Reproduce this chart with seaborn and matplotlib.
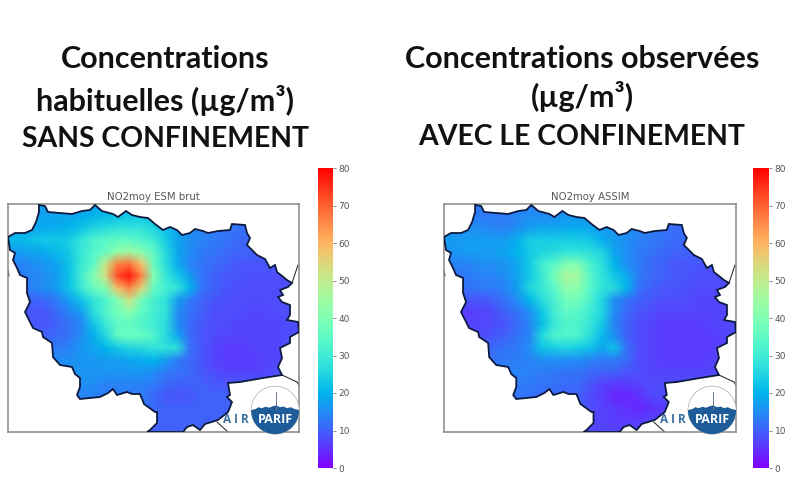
import numpy as np
import matplotlib
matplotlib.use('Agg')
import matplotlib.pyplot as plt
from matplotlib.patches import Polygon, Ellipse
from matplotlib.transforms import Affine2D
import seaborn as sns

# NO2 values, west to east, north to south
brut = [
    [16, 16, 16, 17, 17, 17, 17, 18, 18, 19, 19, 19, 18, 17, 15, 14, 13, 12, 12, 11, 10, 10, 10, 10, 10],
    [16, 17, 17, 18, 18, 18, 19, 20, 21, 22, 23, 23, 21, 19, 16, 14, 13, 12, 12, 11, 10, 10, 10, 10, 10],
    [18, 18, 18, 19, 19, 20, 22, 25, 26, 28, 28, 28, 25, 22, 18, 15, 14, 13, 12, 12, 11, 10, 10, 10, 10],
    [21, 21, 22, 23, 23, 24, 28, 32, 34, 35, 35, 33, 30, 24, 18, 15, 14, 13, 12, 11, 10, 10, 10, 10, 10],
    [16, 17, 18, 19, 21, 23, 29, 33, 36, 43, 45, 41, 35, 26, 18, 15, 13, 12, 11, 10, 10, 9, 9, 9, 9],
    [13, 14, 15, 16, 18, 22, 29, 34, 50, 66, 68, 58, 37, 27, 19, 14, 12, 11, 10, 9, 9, 9, 9, 9, 9],
    [13, 13, 14, 15, 17, 22, 30, 40, 52, 72, 78, 66, 40, 29, 23, 17, 12, 10, 9, 9, 8, 8, 8, 8, 8],
    [12, 13, 14, 15, 17, 22, 29, 36, 40, 58, 66, 55, 36, 31, 28, 20, 12, 10, 9, 8, 8, 8, 8, 8, 8],
    [11, 10, 10, 11, 13, 17, 22, 28, 32, 40, 52, 38, 31, 28, 17, 13, 10, 9, 8, 8, 8, 8, 8, 8, 8],
    [9, 9, 9, 9, 11, 14, 17, 26, 33, 38, 42, 35, 31, 28, 15, 12, 10, 8, 8, 8, 7, 7, 8, 8, 8],
    [9, 9, 9, 9, 10, 12, 14, 22, 29, 35, 35, 33, 30, 27, 15, 11, 9, 8, 8, 7, 7, 7, 7, 8, 8],
    [10, 10, 10, 10, 11, 12, 15, 19, 25, 35, 37, 36, 33, 26, 18, 11, 9, 8, 7, 7, 7, 7, 7, 8, 8],
    [11, 11, 12, 12, 13, 14, 16, 18, 20, 23, 25, 26, 28, 28, 27, 12, 9, 7, 6, 6, 7, 7, 7, 8, 8],
    [12, 12, 13, 14, 15, 15, 16, 16, 17, 17, 18, 19, 20, 17, 13, 11, 9, 7, 6, 6, 6, 7, 7, 8, 8],
    [13, 14, 15, 15, 16, 16, 16, 16, 16, 16, 16, 16, 15, 13, 12, 11, 9, 8, 7, 7, 7, 7, 8, 8, 8],
    [14, 15, 16, 16, 16, 15, 15, 15, 14, 14, 14, 14, 13, 11, 10, 10, 10, 9, 9, 9, 9, 9, 9, 9, 9],
    [14, 15, 15, 15, 15, 14, 14, 14, 13, 13, 13, 13, 11, 9, 9, 9, 10, 10, 10, 10, 10, 10, 10, 10, 10],
    [14, 14, 14, 14, 13, 13, 13, 13, 12, 12, 12, 12, 11, 10, 10, 10, 10, 10, 10, 10, 10, 10, 10, 10, 10],
    [13, 13, 13, 13, 13, 13, 12, 12, 12, 11, 11, 11, 10, 10, 10, 10, 10, 10, 10, 10, 10, 10, 10, 10, 10],
    [13, 13, 13, 13, 12, 12, 12, 12, 11, 11, 11, 11, 10, 10, 10, 10, 10, 10, 10, 10, 10, 10, 10, 10, 10],
]
assim = [
    [13, 13, 13, 13, 13, 13, 14, 14, 14, 15, 15, 15, 14, 13, 13, 13, 12, 12, 11, 10, 10, 10, 10, 10, 10],
    [14, 14, 14, 13, 13, 13, 14, 15, 15, 15, 16, 16, 16, 15, 15, 14, 13, 12, 12, 11, 11, 10, 10, 10, 10],
    [15, 15, 15, 15, 14, 14, 15, 17, 18, 18, 19, 19, 18, 17, 16, 15, 14, 13, 12, 11, 11, 10, 10, 10, 10],
    [17, 17, 17, 17, 17, 17, 19, 24, 24, 24, 24, 24, 23, 19, 17, 15, 14, 13, 12, 11, 11, 10, 10, 10, 10],
    [15, 16, 17, 17, 17, 18, 20, 23, 25, 26, 28, 28, 27, 25, 18, 15, 13, 12, 11, 10, 10, 10, 10, 9, 9],
    [13, 14, 14, 15, 15, 16, 18, 23, 30, 34, 40, 40, 32, 27, 20, 15, 13, 11, 10, 9, 9, 9, 9, 9, 9],
    [11, 12, 13, 14, 14, 15, 18, 23, 29, 38, 47, 45, 34, 28, 23, 19, 13, 11, 10, 9, 9, 8, 8, 8, 8],
    [10, 11, 12, 13, 13, 14, 17, 25, 29, 34, 42, 42, 34, 28, 26, 20, 12, 10, 9, 9, 8, 8, 8, 8, 8],
    [8, 8, 9, 9, 10, 12, 15, 20, 26, 31, 38, 38, 32, 25, 15, 12, 10, 9, 8, 8, 8, 7, 7, 7, 7],
    [7, 6, 6, 7, 8, 10, 12, 15, 22, 30, 35, 34, 30, 25, 15, 11, 9, 8, 7, 7, 7, 7, 7, 7, 8],
    [8, 7, 7, 7, 8, 9, 11, 14, 21, 29, 33, 32, 29, 23, 14, 10, 8, 7, 6, 6, 6, 6, 7, 7, 8],
    [9, 8, 8, 8, 9, 10, 12, 14, 25, 32, 33, 32, 27, 21, 15, 10, 8, 7, 6, 6, 6, 6, 6, 7, 8],
    [10, 9, 9, 10, 11, 12, 13, 15, 22, 24, 25, 24, 22, 18, 22, 12, 8, 7, 6, 6, 6, 6, 6, 7, 8],
    [11, 11, 11, 12, 12, 13, 13, 14, 15, 15, 15, 15, 14, 13, 13, 11, 8, 7, 6, 6, 6, 6, 7, 7, 8],
    [12, 12, 13, 13, 14, 14, 14, 14, 13, 13, 12, 12, 11, 10, 10, 9, 8, 7, 7, 7, 7, 7, 7, 8, 8],
    [12, 13, 13, 14, 14, 14, 13, 13, 12, 12, 11, 11, 9, 7, 6, 6, 7, 8, 8, 8, 8, 8, 8, 8, 8],
    [12, 13, 13, 13, 13, 13, 12, 12, 11, 11, 10, 10, 8, 6, 4, 4, 5, 7, 8, 8, 8, 8, 8, 8, 8],
    [12, 12, 12, 12, 12, 12, 11, 11, 10, 10, 9, 9, 8, 7, 6, 5, 4, 5, 6, 7, 7, 7, 7, 7, 7],
    [11, 11, 11, 11, 11, 11, 10, 10, 9, 9, 8, 8, 7, 7, 6, 6, 6, 7, 7, 7, 7, 7, 7, 7, 7],
    [11, 11, 11, 11, 11, 10, 10, 10, 9, 9, 8, 8, 7, 7, 7, 7, 7, 7, 7, 7, 7, 7, 7, 7, 7],
]

# Region border in map units (0-291 east, 0-228 south), clockwise from the west
border_x = [0, 7, 10, 17, 24, 28, 31, 31, 37, 40, 52, 64, 74, 82, 87, 94, 105, 110, 118, 124, 132, 140, 147,
            155, 162, 169, 174, 182, 187, 195, 200, 210, 222, 224, 237, 239, 242, 239, 249, 257, 262, 267,
            269, 279, 284, 280, 272, 275, 270, 274, 282, 282, 279, 290, 291, 282, 282, 272, 274, 270, 274,
            255, 232, 220, 222, 219, 224, 220, 210, 197, 192, 185, 179, 175, 139, 142, 149, 149, 147, 136,
            132, 124, 119, 109, 105, 100, 92, 72, 69, 72, 72, 67, 64, 52, 45, 44, 35, 34, 25, 20, 17, 22,
            19, 19, 12, 9, 5, 7, 2]
border_y = [33, 29, 29, 29, 26, 18, 8, 1, 2, 8, 9, 10, 7, 6, 1, 7, 10, 13, 7, 11, 13, 14, 20,
            26, 23, 26, 31, 29, 25, 27, 29, 27, 26, 20, 21, 29, 34, 41, 51, 55, 64, 61,
            68, 76, 79, 83, 86, 91, 93, 98, 101, 111, 116, 118, 128, 133, 139, 144, 154, 163, 171,
            174, 178, 179, 191, 193, 198, 208, 216, 220, 226, 221, 223, 228, 228, 226, 219, 208, 208, 200,
            190, 190, 188, 191, 185, 189, 193, 195, 191, 183, 174, 170, 163, 161, 153, 139, 133, 128, 124, 114, 108, 98,
            89, 74, 71, 64, 56, 49, 46]
# Neighbouring borders that run outside the region
neighbour_lines = [
    ([274, 289, 291], [171, 178, 181]),
    ([284, 290], [79, 61]),
    ([209, 220], [218, 228]),
    ([0, 1], [66, 72]),
]

subtitles = ['NO2moy ESM brut', 'NO2moy ASSIM']
headlines = [
    ['Concentrations', 'habituelles (µg/m³)', 'SANS CONFINEMENT'],
    ['Concentrations observées', '(µg/m³)', 'AVEC LE CONFINEMENT'],
]
# small roofline on top of the badge, fraction of badge radius
skyline_x = [-1.0, -0.8, -0.7, -0.55, -0.4, -0.25, -0.1, 0.05, 0.2, 0.35, 0.5, 0.65, 0.8, 1.0]
skyline_y = [0.0, 0.05, 0.12, 0.08, 0.14, 0.1, 0.16, 0.2, 0.12, 0.15, 0.08, 0.12, 0.05, 0.0]
cbar_ticks = [0, 10, 20, 30, 40, 50, 60, 70, 80]

W, H = 800, 494


def px_axes(fig, x0, y0, x1, y1):
    # axes from pixel box, y measured from the top
    return fig.add_axes([x0 / W, 1 - y1 / H, (x1 - x0) / W, (y1 - y0) / H])


def draw_logo(ax):
    # AIRPARIF badge, in axes fraction
    t = ax.transAxes
    cx, cy = 0.918, 0.096
    rx = 24 / 291
    ry = 24 / 228
    ax.add_patch(Ellipse((cx, cy), 2 * rx, 2 * ry, transform=t, fc='white', ec='#aaaaaa', lw=0.5,
                         clip_on=False, zorder=5))
    theta = np.linspace(0, -np.pi, 60)
    xs = list(np.cos(theta)) + skyline_x
    ys = list(np.sin(theta)) + skyline_y
    badge = Affine2D().scale(rx, ry).translate(cx, cy) + t
    ax.add_patch(Polygon(np.column_stack([xs, ys]), closed=True, fc='#1d5c99', ec='none', transform=badge,
                         clip_on=False, zorder=6))
    ax.plot([cx + 0.004, cx + 0.004], [cy, cy + 0.078], color='#667788', lw=0.7, transform=t, clip_on=False, zorder=6)
    ax.text(cx, cy - 0.042, 'PARIF', color='white', fontsize=9, fontweight='bold', family='Open Sans',
            ha='center', va='center', transform=t, zorder=7, clip_on=False)
    ax.text(cx - 0.09, cy - 0.042, 'A I R', color='#3a6f9f', fontsize=8.5, fontweight='bold', family='Open Sans',
            ha='right', va='center', transform=t, zorder=7, clip_on=False)


def draw_map(fig, values, box, cbar_box, subtitle):
    ax = px_axes(fig, *box)
    cax = px_axes(fig, *cbar_box)
    data = np.array(values, dtype=float)
    nrows, ncols = data.shape
    sns.heatmap(data, ax=ax, cbar_ax=cax, cmap='rainbow', vmin=0, vmax=80, xticklabels=False,
                yticklabels=False, shading='gouraud', cbar_kws={'ticks': cbar_ticks})
    ax.set_xlim(0, ncols - 1)
    ax.set_ylim(nrows - 1, 0)

    sx = (ncols - 1) / 291
    sy = (nrows - 1) / 228
    pts = np.column_stack([np.array(border_x) * sx, np.array(border_y) * sy])
    clip = Polygon(pts, closed=True, transform=ax.transData, fc='none', ec='#0c1a40', lw=1.3, zorder=3)
    ax.add_patch(clip)
    ax.collections[0].set_clip_path(clip)
    for lx, ly in neighbour_lines:
        ax.plot(np.array(lx) * sx, np.array(ly) * sy, color='#333333', lw=0.8, zorder=2)

    for s in ax.spines.values():
        s.set_visible(True)
        s.set_color('#888888')
        s.set_linewidth(1.1)
    ax.set_title(subtitle, fontsize=7.3, color='#555555', pad=3)
    cax.tick_params(labelsize=6.5, labelcolor='#555555', color='#777777', length=2, width=0.6, pad=2)
    draw_logo(ax)


sns.set_theme(style='white')
fig = plt.figure(figsize=(W / 100, H / 100), dpi=100, facecolor='white')

draw_map(fig, brut, (8, 204, 299, 432), (318, 168, 333, 468), subtitles[0])
draw_map(fig, assim, (444, 204, 736, 432), (753, 168, 769, 468), subtitles[1])

for lines, xc, ys in [(headlines[0], 165, (59, 100, 139)), (headlines[1], 582, (59, 97, 137))]:
    for line, yc in zip(lines, ys):
        size = 20.4 if line.isupper() else 22
        fig.text(xc / W, 1 - yc / H, line, ha='center', va='center', fontsize=size, fontweight='bold',
                 family='Lato', color='#111111')

fig.savefig('out.png', dpi=100)
